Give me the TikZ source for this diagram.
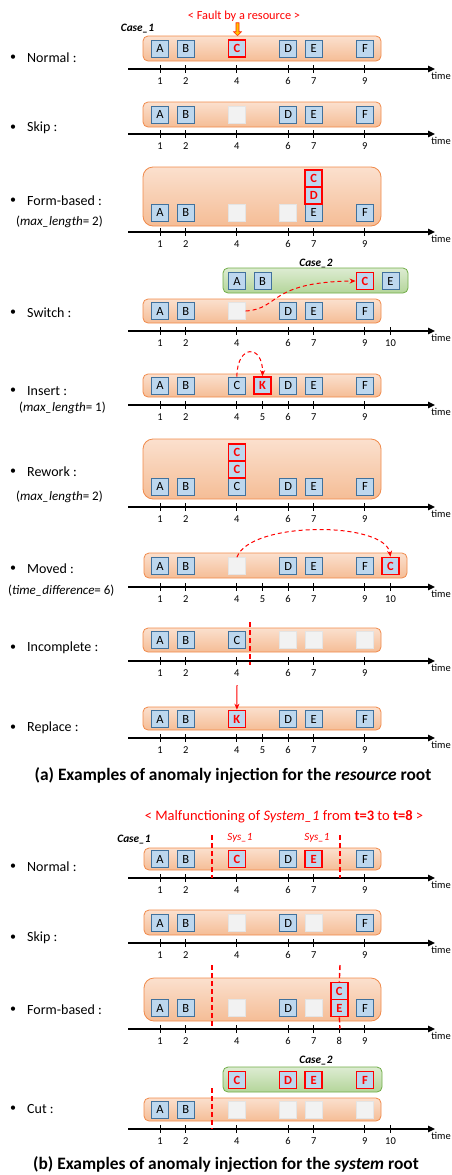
\documentclass[tikz,border=0pt]{standalone}
\usepackage{fontspec}
\setmainfont{Carlito}
\usetikzlibrary{arrows.meta,shapes.arrows,fit}

\definecolor{evfill}{HTML}{BDD7EE}
\definecolor{evline}{HTML}{41719C}
\definecolor{laneline}{HTML}{F08A4B}
\definecolor{lanetop}{HTML}{FBE0CE}
\definecolor{lanebot}{HTML}{F5BD96}
\definecolor{greenline}{HTML}{70AD47}
\definecolor{greentop}{HTML}{DDECD2}
\definecolor{greenbot}{HTML}{B4D59A}
\definecolor{blankfill}{HTML}{F2F2F2}
\definecolor{blankline}{HTML}{E4E4E4}
\definecolor{faultred}{HTML}{FF0000}
\definecolor{arrowfill}{HTML}{FFC000}

\newcommand\fs[1]{\fontsize{#1}{#1}\selectfont}

\tikzset{
  evbox/.style={draw=evline, fill=evfill, line width=0.9pt, minimum size=17pt, inner sep=0pt, font=\fs{12.5}},
  faultbox/.style={evbox, draw=faultred, line width=1.6pt, text=faultred, font=\fs{12.5}\bfseries},
  blankbox/.style={draw=blankline, fill=blankfill, line width=0.6pt, minimum size=17pt, inner sep=0pt},
  lane/.style={draw=laneline, line width=0.8pt, rounded corners=5pt, top color=lanetop, bottom color=lanebot, inner sep=0pt},
  biglane/.style={lane, rounded corners=10pt},
  greenlane/.style={draw=greenline, line width=0.8pt, rounded corners=5pt, top color=greentop, bottom color=greenbot, inner sep=0pt},
  axisline/.style={line width=1.5pt, -{Triangle[length=7pt,width=6.5pt]}},
  tickmark/.style={line width=0.9pt},
  ticklbl/.style={font=\fs{10.5}, inner sep=0pt},
  timelbl/.style={font=\fs{10.5}, inner sep=0pt},
  rowtext/.style={anchor=west, font=\fs{14}, inner sep=0pt},
  bulletmark/.style={font=\fs{12}, inner sep=0pt},
  subtext/.style={anchor=west, font=\fs{13}, inner sep=0pt},
  casetext/.style={font=\fs{11.3}\bfseries\itshape, inner sep=0pt},
  systext/.style={font=\fs{11}\itshape, text=faultred, inner sep=0pt},
  headtext/.style={text=faultred, inner sep=0pt},
  cutline/.style={draw=faultred, line width=1.4pt, dash pattern=on 5pt off 3pt},
  movearrow/.style={draw=faultred, line width=1pt, dash pattern=on 4pt off 3pt, -{Stealth[length=6pt,width=5pt]}},
  droparrow/.style={draw=faultred, line width=1pt, -{Stealth[length=6pt,width=5pt]}},
  caption/.style={font=\fs{17.4}\bfseries, inner sep=0pt},
}

% event box at time step #3, vertical position #4
\newcommand\ev[5][evbox]{\node[#1] (#2) at ({134.5+25.6*#3},#4) {#5};}
% bullet + row title
\newcommand\rowlabel[3]{%
  \node[bulletmark] (#1dot) at (13,#2) {•};
  \node[rowtext] (#1txt) at (27,#2) {#3};}
% time axis with ticks at the listed steps
\newcommand\timeline[3]{%
  \coordinate (#1s) at (128,#2);
  \coordinate (#1e) at (435,#2);
  \draw[axisline] (#1s) -- (#1e);
  \node[timelbl] (#1time) at (441,#2+7) {time};
  \foreach \tk in {#3}{%
    \draw[tickmark] ({134.5+25.6*\tk},#2-4) -- ({134.5+25.6*\tk},#2+4);
    \node[ticklbl] (#1n\tk) at ({134.5+25.6*\tk},#2+12) {\tk};
  }%
}

\begin{document}
\begin{tikzpicture}[x=1pt,y=-1pt]
\useasboundingbox (0,0) rectangle (452,1175);

% ---------------- (a) resource root ----------------
% Normal
\node[headtext, font=\fs{12.3}] (faulthead) at (244,16) {< Fault by a resource >};
\node[single arrow, rotate=-90, draw=faultred!70!orange, fill=arrowfill, line width=0.6pt,
      minimum height=13pt, minimum width=8pt, single arrow head extend=1.5pt, inner sep=0.6pt] (faultarrow) at (237.5,28.5) {};
\node[casetext] (a1case) at (137.5,29) {Case\_1};
\node[lane, fit={(143,36) (381,61)}] (a1lane) {};
\ev{a1A}{1}{48.5}{A}
\ev{a1B}{2}{48.5}{B}
\ev[faultbox]{a1C}{4}{48.5}{C}
\ev{a1D}{6}{48.5}{D}
\ev{a1E}{7}{48.5}{E}
\ev{a1F}{9}{48.5}{F}
\timeline{a1}{69}{1,2,4,6,7,9}
\rowlabel{a1}{58}{Normal :}

% Skip
\node[lane, fit={(143,102) (381,127)}] (a2lane) {};
\ev{a2A}{1}{114.5}{A}
\ev{a2B}{2}{114.5}{B}
\ev[blankbox]{a2X}{4}{114.5}{}
\ev{a2D}{6}{114.5}{D}
\ev{a2E}{7}{114.5}{E}
\ev{a2F}{9}{114.5}{F}
\timeline{a2}{134}{1,2,4,6,7,9}
\rowlabel{a2}{128}{Skip :}

% Form-based
\node[biglane, fit={(143,167) (381,226)}] (a3lane) {};
\ev{a3A}{1}{212.5}{A}
\ev{a3B}{2}{212.5}{B}
\ev[blankbox]{a3X}{4}{212.5}{}
\ev[blankbox]{a3Y}{6}{212.5}{}
\ev{a3E}{7}{212.5}{E}
\ev[faultbox]{a3D}{7}{195.5}{D}
\ev[faultbox]{a3C}{7}{178.5}{C}
\ev{a3F}{9}{212.5}{F}
\timeline{a3}{232}{1,2,4,6,7,9}
\rowlabel{a3}{201}{Form-based :}
\node[subtext] (a3sub) at (16,222) {(\textit{max\_length}= 2)};

% Switch
\node[casetext] (a4case) at (316,264) {Case\_2};
\node[greenlane, fit={(223,268) (408,293)}] (a4glane) {};
\ev{a4gA}{4}{281}{A}
\ev{a4gB}{5}{281}{B}
\ev[faultbox]{a4gC}{9}{281}{C}
\ev{a4gE}{10}{281}{E}
\node[lane, fit={(143,299) (381,323)}] (a4lane) {};
\ev{a4A}{1}{311}{A}
\ev{a4B}{2}{311}{B}
\ev[blankbox]{a4X}{4}{311}{}
\ev{a4D}{6}{311}{D}
\ev{a4E}{7}{311}{E}
\ev{a4F}{9}{311}{F}
\draw[movearrow] (a4X.east) .. controls (280,309) and (268,282) .. (a4gC.west);
\timeline{a4}{331}{1,2,4,6,7,9,10}
\rowlabel{a4}{313}{Switch :}

% Insert
\node[lane, fit={(143,374) (381,397)}] (a5lane) {};
\ev{a5A}{1}{385.5}{A}
\ev{a5B}{2}{385.5}{B}
\ev{a5C}{4}{385.5}{C}
\ev[faultbox]{a5K}{5}{385.5}{K}
\ev{a5D}{6}{385.5}{D}
\ev{a5E}{7}{385.5}{E}
\ev{a5F}{9}{385.5}{F}
\draw[movearrow] (a5C.north) .. controls (237,344) and (263,344) .. (a5K.north);
\timeline{a5}{405}{1,2,4,5,6,7,9}
\rowlabel{a5}{391}{Insert :}
\node[subtext] (a5sub) at (19,408) {(\textit{max\_length}= 1)};

% Rework
\node[biglane, fit={(143,439) (381,499)}] (a6lane) {};
\ev{a6A}{1}{486.5}{A}
\ev{a6B}{2}{486.5}{B}
\ev{a6C}{4}{486.5}{C}
\ev[faultbox]{a6Ca}{4}{469.5}{C}
\ev[faultbox]{a6Cb}{4}{452.5}{C}
\ev{a6D}{6}{486.5}{D}
\ev{a6E}{7}{486.5}{E}
\ev{a6F}{9}{486.5}{F}
\timeline{a6}{507}{1,2,4,6,7,9}
\rowlabel{a6}{472}{Rework :}
\node[subtext] (a6sub) at (16,497) {(\textit{max\_length}= 2)};

% Moved
\node[lane, fit={(144,553) (407,578)}] (a7lane) {};
\ev{a7A}{1}{566}{A}
\ev{a7B}{2}{566}{B}
\ev[blankbox]{a7X}{4}{566}{}
\ev{a7D}{6}{566}{D}
\ev{a7E}{7}{566}{E}
\ev{a7F}{9}{566}{F}
\ev[faultbox]{a7C}{10}{566}{C}
\draw[movearrow] (a7X.north) .. controls (250,521) and (385,521) .. (a7C.north);
\timeline{a7}{587}{1,2,4,5,6,7,9,10}
\rowlabel{a7}{569}{Moved :}
\node[subtext] (a7sub) at (8,591) {(\textit{time\_difference}= 6)};

% Incomplete
\node[lane, fit={(143,628) (381,652)}] (a8lane) {};
\ev{a8A}{1}{640}{A}
\ev{a8B}{2}{640}{B}
\ev{a8C}{4}{640}{C}
\ev[blankbox]{a8X}{6}{640}{}
\ev[blankbox]{a8Y}{7}{640}{}
\ev[blankbox]{a8Z}{9}{640}{}
\timeline{a8}{661}{1,2,4,6,7,9}
\coordinate (a8cuttop) at (250,622);
\coordinate (a8cutbot) at (250,665);
\draw[cutline] (a8cuttop) -- (a8cutbot);
\rowlabel{a8}{648}{Incomplete :}

% Replace
\node[lane, fit={(143,707) (381,730)}] (a9lane) {};
\ev{a9A}{1}{719}{A}
\ev{a9B}{2}{719}{B}
\ev[faultbox]{a9K}{4}{719}{K}
\ev{a9D}{6}{719}{D}
\ev{a9E}{7}{719}{E}
\ev{a9F}{9}{719}{F}
\coordinate (a9src) at (237,685);
\draw[droparrow] (a9src) -- (a9K.north);
\timeline{a9}{738}{1,2,4,5,6,7,9}
\rowlabel{a9}{728}{Replace :}

\node[caption] (capa) at (233,776) {(a) Examples of anomaly injection for the \textit{resource} root};

% ---------------- (b) system root ----------------
\node[headtext, font=\fs{14.5}] (syshead) at (284,817)
  {< Malfunctioning of \textit{System\_1} from \textbf{t=3} to \textbf{t=8} >};

% Normal
\node[casetext] (b1case) at (134,840) {Case\_1};
\node[systext] (b1sysa) at (240,838) {Sys\_1};
\node[systext] (b1sysb) at (317,838) {Sys\_1};
\node[lane, fit={(144,848) (381,870)}] (b1lane) {};
\ev{b1A}{1}{859}{A}
\ev{b1B}{2}{859}{B}
\ev[faultbox]{b1C}{4}{859}{C}
\ev{b1D}{6}{859}{D}
\ev[faultbox]{b1E}{7}{859}{E}
\ev{b1F}{9}{859}{F}
\timeline{b1}{878}{1,2,4,6,7,9}
\coordinate (b1lt) at (212,835);
\coordinate (b1lb) at (212,878);
\coordinate (b1rt) at (340,835);
\coordinate (b1rb) at (340,878);
\draw[cutline] (b1lt) -- (b1lb);
\draw[cutline] (b1rt) -- (b1rb);
\rowlabel{b1}{867}{Normal :}

% Skip
\node[lane, fit={(144,910) (381,935)}] (b2lane) {};
\ev{b2A}{1}{923}{A}
\ev{b2B}{2}{923}{B}
\ev[blankbox]{b2X}{4}{923}{}
\ev{b2D}{6}{923}{D}
\ev[blankbox]{b2Y}{7}{923}{}
\ev{b2F}{9}{923}{F}
\timeline{b2}{943}{1,2,4,6,7,9}
\rowlabel{b2}{938}{Skip :}

% Form-based
\node[biglane, fit={(144,978) (381,1021)}] (b3lane) {};
\ev{b3A}{1}{1008}{A}
\ev{b3B}{2}{1008}{B}
\ev[blankbox]{b3X}{4}{1008}{}
\ev{b3D}{6}{1008}{D}
\ev[blankbox]{b3Y}{7}{1008}{}
\ev[faultbox]{b3E}{8}{1008}{E}
\ev[faultbox]{b3C}{8}{991}{C}
\ev{b3F}{9}{1008}{F}
\timeline{b3}{1029}{1,2,4,6,7,8,9}
\coordinate (b3lt) at (212,965);
\coordinate (b3lb) at (212,1029);
\coordinate (b3rt) at (340,965);
\coordinate (b3rb) at (340,1029);
\draw[cutline] (b3lt) -- (b3lb);
\draw[cutline] (b3rt) -- (b3C.north);
\draw[cutline] (b3E.south) -- (b3rb);
\rowlabel{b3}{1010}{Form-based :}

% Cut
\node[casetext] (b4case) at (316,1061) {Case\_2};
\node[greenlane, fit={(223,1067) (382,1092)}] (b4glane) {};
\ev[faultbox]{b4gC}{4}{1080}{C}
\ev[faultbox]{b4gD}{6}{1080}{D}
\ev[faultbox]{b4gE}{7}{1080}{E}
\ev[faultbox]{b4gF}{9}{1080}{F}
\node[lane, fit={(144,1098) (381,1121)}] (b4lane) {};
\ev{b4A}{1}{1109.5}{A}
\ev{b4B}{2}{1109.5}{B}
\ev[blankbox]{b4X}{4}{1109.5}{}
\ev[blankbox]{b4Y}{6}{1109.5}{}
\ev[blankbox]{b4Z}{7}{1109.5}{}
\ev[blankbox]{b4W}{9}{1109.5}{}
\timeline{b4}{1129}{1,2,4,6,7,9,10}
\coordinate (b4lt) at (212,1088);
\coordinate (b4lb) at (212,1129);
\draw[cutline] (b4lt) -- (b4lb);
\rowlabel{b4}{1109}{Cut :}

\node[caption] (capb) at (226,1164) {(b) Examples of anomaly injection for the \textit{system} root};
\end{tikzpicture}
\end{document}
